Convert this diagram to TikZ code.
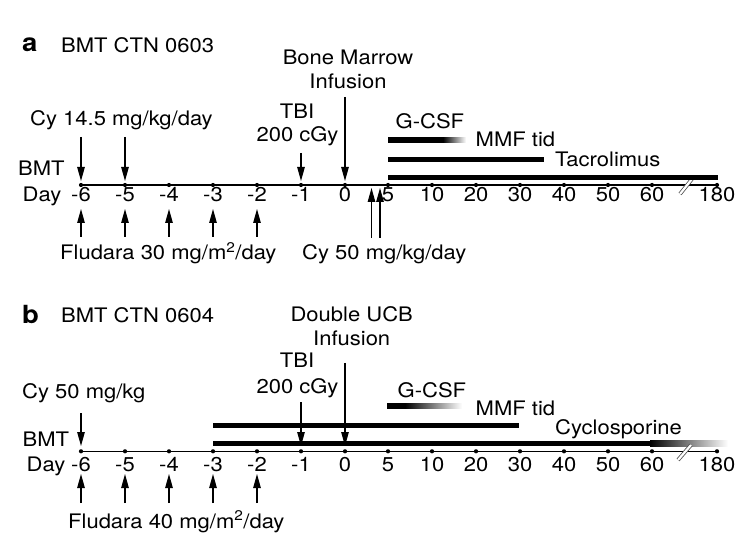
\documentclass[tikz,border=0pt]{standalone}
\usepackage{fontspec}
\setmainfont{TeX Gyre Heros}[FakeStretch=1.1]
\usetikzlibrary{arrows.meta}
\begin{document}
\begin{tikzpicture}[x=1pt,y=-1pt,
  txt/.style={anchor=base west,inner sep=0pt,font=\fontsize{20}{24}\selectfont},
  ctxt/.style={anchor=base,inner sep=0pt,font=\fontsize{20}{24}\selectfont},
  lbl/.style={anchor=base west,inner sep=0pt,font=\fontsize{25}{28}\selectfont\bfseries},
  axisline/.style={line width=1.1pt},
  arr/.style={line width=1.1pt,-{Triangle[length=14pt,width=7.5pt]}},
  barline/.style={line width=5.5pt},
  brk/.style={line width=0.8pt,black!70,double=white,double distance=2.2pt}]
\useasboundingbox (0,0) rectangle (750,553);

% ================= Panel a =================
\node[lbl] (alab) at (22,52) {a};
\node[txt] (atitle) at (61,53) {BMT CTN 0603};
\node[txt] (abmt) at (18,176) {BMT};
\node[txt] (aday) at (22.5,201.5) {Day};

\coordinate (aL) at (81,185);
\coordinate (aR) at (717,185);
\draw[axisline] (aL) -- (aR);
\foreach \x/\l/\n in {81/-6/m6,125/-5/m5,169/-4/m4,213/-3/m3,257/-2/m2,301/-1/m1,345/0/z,388/5/p5,432/10/p10,476/20/p20,520/30/p30,564/40/p40,608/50/p50,652/60/p60,717/180/p180}{
  \coordinate (ta\n) at (\x,185);
  \fill (ta\n) circle (2.1pt);
  \node[ctxt] (la\n) at (\x,201.5) {\l};
}
\draw[brk] (680,194) -- (692,179);

% Cy 14.5
\node[txt] (acy) at (30,126) {Cy 14.5 mg/kg/day};
\coordinate (acy1s) at (81,137); \coordinate (acy1e) at (81,181);
\coordinate (acy2s) at (125,137); \coordinate (acy2e) at (125,181);
\draw[arr] (acy1s) -- (acy1e);
\draw[arr] (acy2s) -- (acy2e);

% TBI
\node[ctxt] (atbi) at (297,118.3) {TBI};
\node[ctxt] (atbi2) at (297.5,141.7) {200 cGy};
\coordinate (atbis) at (301,153); \coordinate (atbie) at (301,181);
\draw[arr] (atbis) -- (atbie);

% Bone marrow infusion
\node[ctxt] (abm) at (348,65) {Bone Marrow};
\node[ctxt] (abm2) at (348,88.3) {Infusion};
\coordinate (abms) at (345,97); \coordinate (abme) at (345,181);
\draw[arr] (abms) -- (abme);

% Fludara 30
\node[txt] (aflu) at (60,260) {Fludara 30 mg/m\textsuperscript{2}/day};
\foreach \x/\n in {81/1,125/2,169/3,213/4,257/5}{
  \coordinate (afs\n) at (\x,237);
  \coordinate (afe\n) at (\x,209);
  \draw[arr] (afs\n) -- (afe\n);
}

% Cy 50 mg/kg/day
\node[txt] (acy50) at (302,260) {Cy 50 mg/kg/day};
\coordinate (ac5s1) at (371.5,238); \coordinate (ac5e1) at (371.5,188);
\coordinate (ac5s2) at (380,238); \coordinate (ac5e2) at (380,188);
\draw[arr] (ac5s1) -- (ac5e1);
\draw[arr] (ac5s2) -- (ac5e2);

% Bars a
\fill (388,137.2) rectangle (443,142.8);
\shade[left color=black,right color=white] (443,137.2) rectangle (466,142.8);
\node[txt] (agcsf) at (395.5,128.3) {G-CSF};
\draw[barline] (388,159.3) -- (544,159.3);
\node[txt] (ammf) at (475.5,146.7) {MMF tid};
\draw[barline] (388,177.3) -- (717.5,177.3);
\node[txt] (atac) at (555,166.7) {Tacrolimus};

% ================= Panel b =================
\node[lbl] (blab) at (22,324) {b};
\node[txt] (btitle) at (61,322.7) {BMT CTN 0604};
\node[txt] (bbmt) at (22.5,446.7) {BMT};
\node[txt] (bday) at (26.5,471.7) {Day};

\coordinate (bL) at (81,451.3);
\coordinate (bR) at (717,451.3);
\draw[axisline] (bL) -- (bR);
\foreach \x/\l/\n in {81/-6/m6,125/-5/m5,169/-4/m4,213/-3/m3,257/-2/m2,301/-1/m1,345/0/z,388/5/p5,432/10/p10,476/20/p20,520/30/p30,564/40/p40,608/50/p50,652/60/p60,717/180/p180}{
  \coordinate (tb\n) at (\x,451.3);
  \fill (tb\n) circle (2.1pt);
  \node[ctxt] (lb\n) at (\x,471.7) {\l};
}

% Bars b
\fill (387,403.2) rectangle (405,408.8);
\shade[left color=black,right color=white] (405,403.2) rectangle (462,408.8);
\node[txt] (bgcsf) at (397.5,397.3) {G-CSF};
\draw[barline] (213,425.3) -- (519,425.3);
\node[txt] (bmmf) at (475.5,415) {MMF tid};
\fill (213,440.5) rectangle (650,446.1);
\shade[left color=black,right color=white] (650,440.5) rectangle (728,446.1);
\node[txt] (bcsa) at (555,434) {Cyclosporine};
\draw[brk] (678,460) -- (691,445);

% Cy 50 mg/kg
\node[txt] (bcy) at (22,398.3) {Cy 50 mg/kg};
\coordinate (bcys) at (81,413); \coordinate (bcye) at (81,446);
\draw[arr] (bcys) -- (bcye);

% TBI
\node[ctxt] (btbi) at (297,367.3) {TBI};
\node[ctxt] (btbi2) at (297.5,394) {200 cGy};
\coordinate (btbis) at (301,402); \coordinate (btbie) at (301,446);
\draw[arr] (btbis) -- (btbie);

% Double UCB infusion
\node[ctxt] (bucb) at (351.7,321.7) {Double UCB};
\node[ctxt] (bucb2) at (351.7,346) {Infusion};
\coordinate (bucbs) at (345,363); \coordinate (bucbe) at (345,446);
\draw[arr] (bucbs) -- (bucbe);

% Fludara 40
\node[txt] (bflu) at (68,528.3) {Fludara 40 mg/m\textsuperscript{2}/day};
\foreach \x/\n in {81/1,125/2,169/3,213/4,257/5}{
  \coordinate (bfs\n) at (\x,503);
  \coordinate (bfe\n) at (\x,474);
  \draw[arr] (bfs\n) -- (bfe\n);
}
\end{tikzpicture}
\end{document}
